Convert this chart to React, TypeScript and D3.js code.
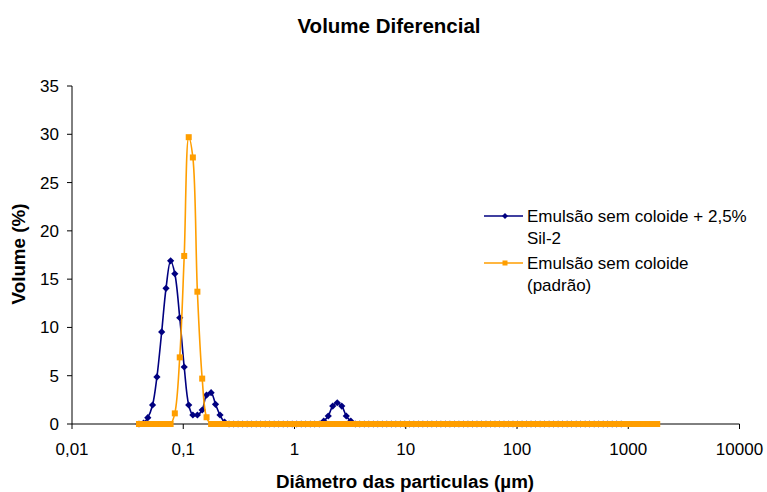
import React from "react";
import * as d3 from "d3";

// Particle diameters (µm) of the analyser channels
const diameters: number[] = [
  0.04, 0.044, 0.048, 0.053, 0.058, 0.064, 0.07, 0.077, 0.084, 0.093,
  0.102, 0.112, 0.122, 0.134, 0.148, 0.162, 0.178, 0.195, 0.214, 0.235,
  0.258, 0.284, 0.311, 0.342, 0.375, 0.412, 0.452, 0.496, 0.545, 0.598,
  0.656, 0.721, 0.791, 0.868, 0.953, 1.047, 1.149, 1.261, 1.385, 1.52,
  1.669, 1.832, 2.011, 2.207, 2.423, 2.66, 2.92, 3.205, 3.519, 3.863,
  4.24, 4.655, 5.11, 5.61, 6.158, 6.76, 7.421, 8.147, 8.943, 9.817,
  10.78, 11.83, 12.99, 14.26, 15.65, 17.18, 18.86, 20.71, 22.73, 24.95,
  27.39, 30.07, 33.01, 36.24, 39.78, 43.67, 47.94, 52.62, 57.77, 63.41,
  69.61, 76.42, 83.89, 92.09, 101.1, 111.0, 121.8, 133.7, 146.8, 161.2,
  176.9, 194.2, 213.2, 234.1, 256.9, 282.1, 309.6, 339.9, 373.1, 409.6,
  449.7, 493.6, 541.9, 594.9, 653.0, 716.8, 786.9, 863.9, 948.3, 1041,
  1143, 1255, 1377, 1512, 1660, 1822,
];

// Emulsão sem coloide + 2,5% Sil-2 (channels 0..107)
const silValues: number[] = [
  0, 0.1, 0.65, 1.97, 4.87, 9.53, 14.05, 16.9, 15.56, 11.0,
  5.9, 1.97, 0.93, 0.93, 1.45, 3.0, 3.24, 2.04, 0.93, 0.2,
  0, 0, 0, 0, 0, 0, 0, 0, 0, 0,
  0, 0, 0, 0, 0, 0, 0, 0, 0, 0,
  0, 0.3, 0.83, 1.86, 2.2, 1.86, 0.83, 0.3, 0, 0,
  0, 0, 0, 0, 0, 0, 0, 0, 0, 0,
  0, 0, 0, 0, 0, 0, 0, 0, 0, 0,
  0, 0, 0, 0, 0, 0, 0, 0, 0, 0,
  0, 0, 0, 0, 0, 0, 0, 0, 0, 0,
  0, 0, 0, 0, 0, 0, 0, 0, 0, 0,
  0, 0, 0, 0, 0, 0, 0, 0,
];

// Emulsão sem coloide (padrão) (channels 0..115)
const padraoValues: number[] = [
  0, 0, 0, 0, 0, 0, 0, 0, 1.1, 6.9,
  17.4, 29.7, 27.6, 13.7, 4.7, 0.7, 0, 0, 0, 0,
  0, 0, 0, 0, 0, 0, 0, 0, 0, 0,
  0, 0, 0, 0, 0, 0, 0, 0, 0, 0,
  0, 0, 0, 0, 0, 0, 0, 0, 0, 0,
  0, 0, 0, 0, 0, 0, 0, 0, 0, 0,
  0, 0, 0, 0, 0, 0, 0, 0, 0, 0,
  0, 0, 0, 0, 0, 0, 0, 0, 0, 0,
  0, 0, 0, 0, 0, 0, 0, 0, 0, 0,
  0, 0, 0, 0, 0, 0, 0, 0, 0, 0,
  0, 0, 0, 0, 0, 0, 0, 0, 0, 0,
  0, 0, 0, 0, 0, 0,
];

const xTicks: number[] = [0.01, 0.1, 1, 10, 100, 1000, 10000];
const xTickLabels: string[] = ["0,01", "0,1", "1", "10", "100", "1000", "10000"];
const yTicks: number[] = [0, 5, 10, 15, 20, 25, 30, 35];

const seriesNames: string[] = ["Emulsão sem coloide + 2,5%", "Sil-2", "Emulsão sem coloide", "(padrão)"];

const W = 767;
const H = 492;
const FONT = "'Liberation Sans', Arial, Helvetica, sans-serif";
const BLUE = "#000080";
const ORANGE = "#FF9E00";

export default function App() {
  const x = d3.scaleLog().domain([0.01, 10000]).range([72, 739.5]);
  const y = d3.scaleLinear().domain([0, 35]).range([424, 86]);

  const line = d3
    .line<[number, number]>()
    .x((d) => x(d[0]))
    .y((d) => y(d[1]))
    .curve(d3.curveCatmullRom.alpha(0.5));

  const silData: [number, number][] = silValues.map((v, i) => [diameters[i], v]);
  const padData: [number, number][] = padraoValues.map((v, i) => [diameters[i], v]);

  const diamond = (cx: number, cy: number, r: number) =>
    `M${cx},${cy - r}L${cx + r},${cy}L${cx},${cy + r}L${cx - r},${cy}Z`;

  const x0 = x.range()[0];
  const x1 = x.range()[1];
  const yBottom = y(0);
  const yTop = y(35);

  return (
    <svg
      width={W}
      height={H}
      style={{ position: "absolute", left: 0, top: 0, background: "#fff" }}
      fontFamily={FONT}
    >
      <rect x={0} y={0} width={W} height={H} fill="#fff" />
      {/* Title */}
      <text x={389} y={33} textAnchor="middle" fontSize={20.5} fontWeight="bold" fill="#000">
        Volume Diferencial
      </text>

      {/* Y axis */}
      <line x1={x0} x2={x0} y1={yTop} y2={yBottom} stroke="#000" strokeWidth={1} />
      {yTicks.map((t) => (
        <g key={"y" + t}>
          <line x1={x0 - 5} x2={x0} y1={y(t)} y2={y(t)} stroke="#000" strokeWidth={1} />
          <text x={x0 - 13} y={y(t)} dy="0.35em" textAnchor="end" fontSize={17} fill="#000">
            {t}
          </text>
        </g>
      ))}

      {/* X axis */}
      <line x1={x0} x2={x1} y1={yBottom} y2={yBottom} stroke="#000" strokeWidth={1} />
      {xTicks.map((t, i) => (
        <g key={"x" + t}>
          <line x1={x(t)} x2={x(t)} y1={yBottom} y2={yBottom + 5} stroke="#000" strokeWidth={1} />
          <text x={x(t)} y={449} dy="0.35em" textAnchor="middle" fontSize={17} fill="#000">
            {xTickLabels[i]}
          </text>
        </g>
      ))}

      {/* Axis titles */}
      <text x={405} y={481} dy="0.35em" textAnchor="middle" fontSize={18.8} fontWeight="bold" fill="#000">
        Diâmetro das particulas (µm)
      </text>
      <text
        transform={`translate(18,254) rotate(-90)`}
        dy="0.35em"
        textAnchor="middle"
        fontSize={18.8}
        fontWeight="bold"
        fill="#000"
      >
        Volume (%)
      </text>

      {/* Series 1 */}
      <path d={line(silData) || ""} fill="none" stroke={BLUE} strokeWidth={1.6} />
      {silData.map((d, i) => (
        <path key={"s" + i} d={diamond(x(d[0]), y(d[1]), 3.6)} fill={BLUE} />
      ))}

      {/* Series 2 */}
      <path d={line(padData) || ""} fill="none" stroke={ORANGE} strokeWidth={1.6} />
      {padData.map((d, i) => (
        <rect key={"p" + i} x={x(d[0]) - 3} y={y(d[1]) - 3} width={6} height={6} fill={ORANGE} />
      ))}

      {/* Legend */}
      <line x1={484} x2={523} y1={216} y2={216} stroke={BLUE} strokeWidth={1.6} />
      <path d={diamond(505, 216, 3)} fill={BLUE} />
      <text x={527} y={216} dy="0.35em" fontSize={17} fill="#000">{seriesNames[0]}</text>
      <text x={527} y={238} dy="0.35em" fontSize={17} fill="#000">{seriesNames[1]}</text>
      <line x1={484} x2={523} y1={263} y2={263} stroke={ORANGE} strokeWidth={1.6} />
      <rect x={502.5} y={260.5} width={5} height={5} fill={ORANGE} />
      <text x={527} y={263} dy="0.35em" fontSize={17} fill="#000">{seriesNames[2]}</text>
      <text x={527} y={285} dy="0.35em" fontSize={17} fill="#000">{seriesNames[3]}</text>
    </svg>
  );
}
